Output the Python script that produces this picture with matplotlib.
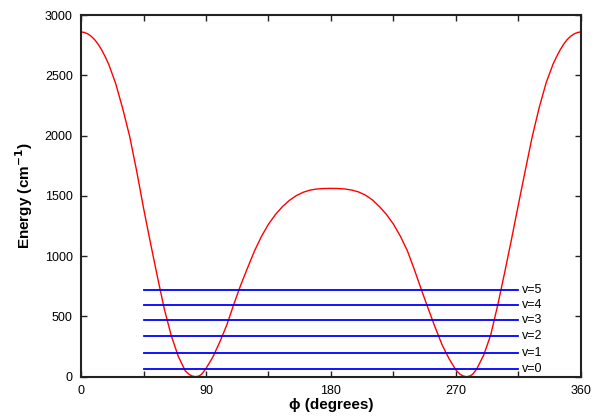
import matplotlib
matplotlib.use("Agg")
import matplotlib.pyplot as plt

plt.rcParams['font.family'] = ['Liberation Sans', 'DejaVu Sans']

# torsional potential (phi in degrees, energy in cm-1)
phi = [0, 2.5, 5, 7.5, 10, 12.5, 15, 17.5, 20, 25, 30, 35, 40, 45, 50, 55, 60, 65,
       70, 75, 78, 80, 82.5, 85, 87, 90, 95, 100, 105, 110, 115, 120, 125, 130, 135,
       140, 145, 150, 155, 160, 165, 170, 175, 180, 185, 190, 195, 200, 205, 210,
       215, 220, 225, 230, 235, 240, 245, 250, 255, 260, 265, 270, 273, 275, 277.5,
       280, 282, 285, 290, 295, 300, 305, 310, 315, 320, 325, 330, 335, 340, 342.5,
       345, 347.5, 350, 352.5, 355, 357.5, 360]
energy = [2860, 2855, 2843, 2822, 2793, 2755, 2708, 2652, 2590, 2430, 2225, 1995,
          1710, 1400, 1110, 830, 560, 340, 170, 50, 18, 6, 0, 6, 22, 68, 165, 290,
          430, 600, 760, 905, 1045, 1165, 1265, 1345, 1410, 1462, 1502, 1530, 1548,
          1557, 1561, 1562, 1561, 1557, 1548, 1532, 1505, 1465, 1410, 1345, 1265,
          1165, 1045, 890, 725, 565, 410, 265, 150, 55, 20, 7, 0, 6, 20, 65, 180,
          345, 590, 860, 1140, 1430, 1715, 1995, 2235, 2440, 2595, 2655, 2710, 2757,
          2795, 2823, 2843, 2855, 2860]

# vibrational levels
levels = [62, 199, 335, 467, 594, 721]
level_names = ["v=0", "v=1", "v=2", "v=3", "v=4", "v=5"]
level_start = 45
level_end = 315

fig = plt.figure(figsize=(5.94, 4.17), dpi=100)
ax = fig.add_axes([0.1364, 0.0966, 0.978 - 0.1364, 0.964 - 0.0966])

ax.plot(phi, energy, color="#ff0000", lw=1.0)
for e, name in zip(levels, level_names):
    ax.plot([level_start, level_end], [e, e], color="#0000ff", lw=1.3)
    ax.text(level_end + 2.5, e, name, fontsize=9, va="center", ha="left")

ax.set_xlim(0, 360)
ax.set_ylim(0, 3000)
ax.set_xticks(range(0, 361, 45))
ax.set_xticklabels([str(t) if t % 90 == 0 else "" for t in range(0, 361, 45)])
ax.set_yticks(range(0, 3001, 500))
ax.tick_params(direction="in", length=4, width=1, top=True, right=True,
               labelsize=9, pad=6, colors="#222222", labelcolor="black")
for s in ax.spines.values():
    s.set_linewidth(1.5)
    s.set_color("#222222")

ax.set_xlabel("ϕ (degrees)", fontsize=11, fontweight="bold", labelpad=1)
ax.set_ylabel("Energy (cm$^{\\mathbf{-1}}$)", fontsize=11, fontweight="bold", labelpad=7)

fig.savefig("out.png", dpi=100)
